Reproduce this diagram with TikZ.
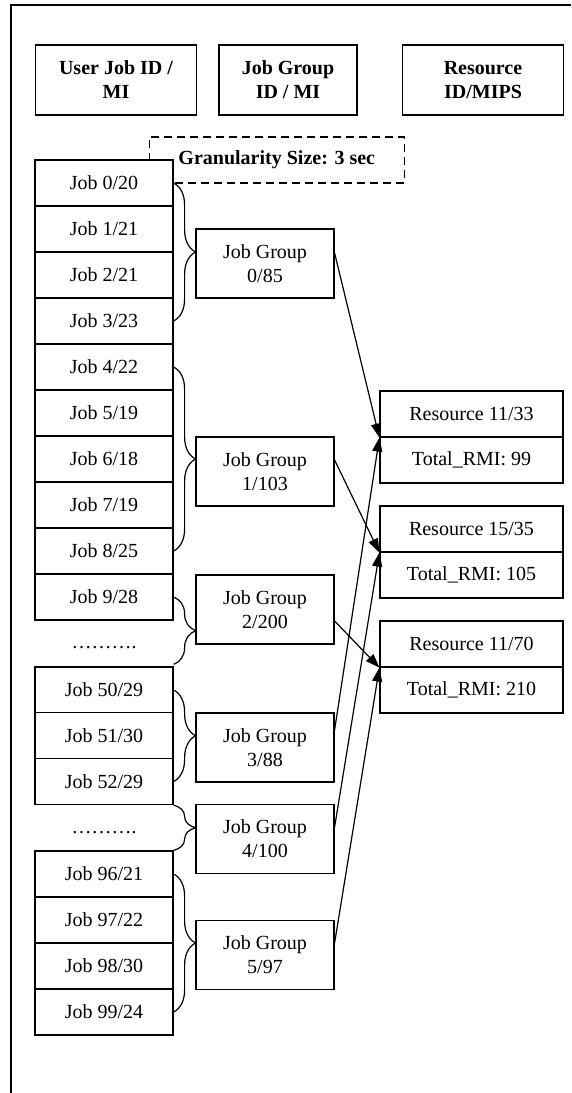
\documentclass[tikz,border=0pt]{standalone}
\usepackage{fontspec}
\setmainfont{Liberation Serif}
\usetikzlibrary{arrows.meta,decorations.pathreplacing,calc}
\begin{document}
\begin{tikzpicture}[x=1pt,y=-1pt,
  every node/.style={font=\fontsize{20}{24}\selectfont, inner sep=0pt, align=center},
  frame/.style={line width=1.8pt},
  hdr/.style={draw,line width=1.2pt,minimum height=70pt,font=\fontsize{20}{24}\selectfont\bfseries},
  gran/.style={draw,line width=1.2pt,dash pattern=on 8pt off 5pt,minimum width=255pt,minimum height=46pt,font=\fontsize{20}{24}\selectfont\bfseries},
  jobbox/.style={draw,line width=1.2pt,fill=white,minimum width=138pt,minimum height=46pt},
  grp/.style={draw,line width=1.2pt,fill=white,minimum width=138pt,minimum height=69pt},
  res/.style={draw,line width=1.2pt,minimum width=183pt,minimum height=46pt},
  dotrow/.style={anchor=base},
  brc/.style={decorate,decoration={brace,amplitude=22pt},line width=1.2pt},
  arr/.style={-{Triangle[length=14pt,width=10pt]},line width=1.2pt}
]
\useasboundingbox (0,0) rectangle (571,1093);
% frame
\coordinate (fa) at (11,1093);
\coordinate (fb) at (11,5);
\coordinate (fc) at (571,5);
\draw[frame] (fa) -- (fb) -- (fc);
% headers
\node[hdr,minimum width=161pt] (h1) at (116,80) {User Job ID /\\MI};
\node[hdr,minimum width=138pt] (h2) at (288,80) {Job Group\\ID / MI};
\node[hdr,minimum width=161pt] (h3) at (483,80) {Resource\\ID/MIPS};
% granularity
\node[gran] (gs) at (276.8,160) {Granularity Size: 3 sec};
% jobs
\node[jobbox] (j0) at (104,183) {Job 0/20};
\node[jobbox] (j1) at (104,229) {Job 1/21};
\node[jobbox] (j2) at (104,275) {Job 2/21};
\node[jobbox] (j3) at (104,321) {Job 3/23};
\node[jobbox] (j4) at (104,367) {Job 4/22};
\node[jobbox] (j5) at (104,413) {Job 5/19};
\node[jobbox] (j6) at (104,459) {Job 6/18};
\node[jobbox] (j7) at (104,505) {Job 7/19};
\node[jobbox] (j8) at (104,551) {Job 8/25};
\node[jobbox] (j9) at (104,597) {Job 9/28};
\node[dotrow] (d1) at (104,648) {……….};
\node[jobbox] (j50) at (104,690) {Job 50/29};
\node[jobbox] (j51) at (104,735.75) {Job 51/30};
\node[jobbox] (j52) at (104,781.5) {Job 52/29};
\node[dotrow] (d2) at (104,833) {……….};
\node[jobbox] (j96) at (104,874) {Job 96/21};
\node[jobbox] (j97) at (104,920) {Job 97/22};
\node[jobbox] (j98) at (104,966) {Job 98/30};
\node[jobbox] (j99) at (104,1012) {Job 99/24};
% braces
\draw[brc] (j0.east) -- (j3.east);
\draw[brc] (j4.east) -- (j8.east);
\draw[brc] (j9.east) -- ($(j50.north east)+(0,-2)$);
\draw[brc] (j50.east) -- (j52.east);
\draw[brc] (j52.south east) -- (j96.north east);
\draw[brc] (j96.east) -- (j99.east);
% groups
\node[grp] (g0) at (265,263.5) {Job Group\\0/85};
\node[grp] (g1) at (265,471.5) {Job Group\\1/103};
\node[grp] (g2) at (265,609.5) {Job Group\\2/200};
\node[grp] (g3) at (265,747.5) {Job Group\\3/88};
\node[grp] (g4) at (265,839) {Job Group\\4/100};
\node[grp] (g5) at (265,955) {Job Group\\5/97};
% resources
\node[res] (r1a) at (471.5,414) {Resource 11/33};
\node[res] (r1b) at (471.5,460) {Total\_RMI: 99};
\node[res] (r2a) at (471.5,529) {Resource 15/35};
\node[res] (r2b) at (471.5,575) {Total\_RMI: 105};
\node[res] (r3a) at (471.5,644) {Resource 11/70};
\node[res] (r3b) at (471.5,690) {Total\_RMI: 210};
% arrow starts
\coordinate (s0) at ($(g0.east)+(0,-10.5)$);
\coordinate (s1) at ($(g1.east)+(0,-11.5)$);
\coordinate (s2) at ($(g2.east)+(0,11.5)$);
\coordinate (s3) at ($(g3.east)+(0,-17.5)$);
\coordinate (s4) at ($(g4.east)+(0,-12)$);
\coordinate (s5) at ($(g5.east)+(0,-12)$);
% arrows
\draw[arr] (s0) -- (r1a.south west);
\draw[arr] (s1) -- (r2a.south west);
\draw[arr] (s2) -- (r3a.south west);
\draw[arr] (s3) -- (r1a.south west);
\draw[arr] (s4) -- (r2a.south west);
\draw[arr] (s5) -- (r3a.south west);
\end{tikzpicture}
\end{document}
